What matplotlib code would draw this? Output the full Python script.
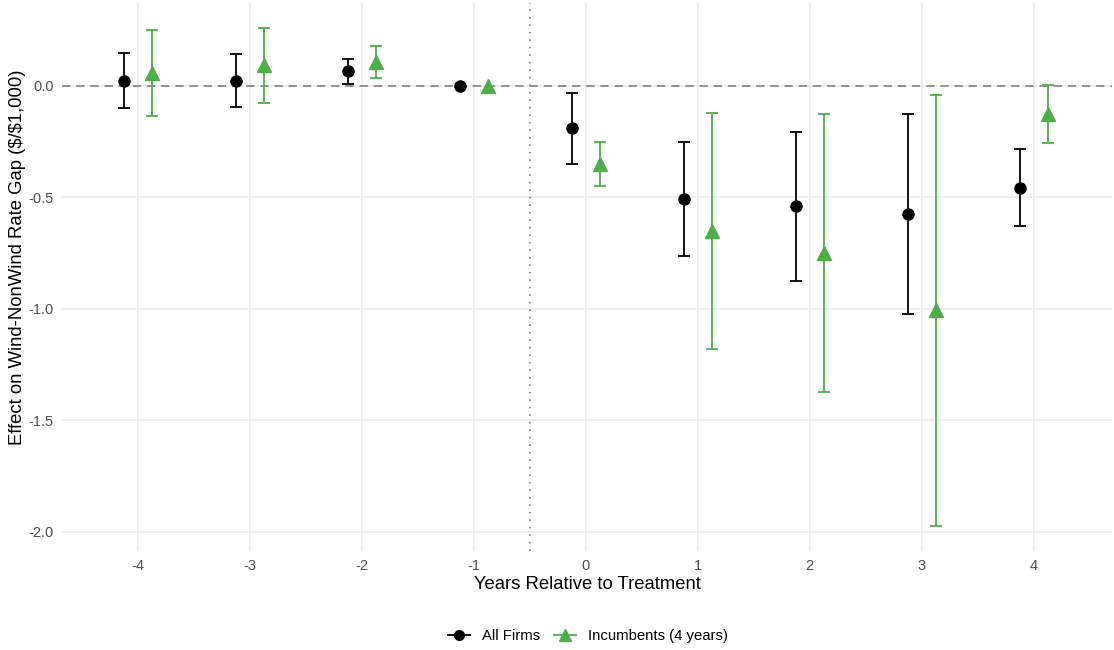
import matplotlib.pyplot as plt
import numpy as np
from matplotlib.lines import Line2D

plt.rcParams['font.family'] = ['Liberation Sans', 'DejaVu Sans']
plt.rcParams['axes.unicode_minus'] = False

# event-study estimates, years relative to treatment
years = [-4, -3, -2, -1, 0, 1, 2, 3, 4]

all_est = [0.022, 0.022, 0.065, 0.0, -0.190, -0.508, -0.540, -0.576, -0.456]
all_lo = [-0.101, -0.094, 0.008, 0.0, -0.350, -0.764, -0.875, -1.024, -0.629]
all_hi = [0.148, 0.141, 0.121, 0.0, -0.030, -0.251, -0.205, -0.127, -0.283]

inc_est = [0.059, 0.093, 0.108, 0.0, -0.350, -0.651, -0.749, -1.007, -0.126]
inc_lo = [-0.133, -0.075, 0.036, 0.0, -0.449, -1.181, -1.373, -1.975, -0.256]
inc_hi = [0.251, 0.260, 0.179, 0.0, -0.251, -0.121, -0.124, -0.039, 0.004]

green = '#4DAF4A'
dodge = 0.125

fig = plt.figure(figsize=(11.14, 6.5), dpi=100)
ax = fig.add_axes([62 / 1114, 99 / 650, 1050 / 1114, 548 / 650])

ax.axhline(0, color='#808080', lw=1.2, ls=(0, (5, 3.5)), zorder=1)
ax.axvline(-0.5, color='#808080', lw=1.2, ls=(0, (1, 3.5)), zorder=1)


def draw_series(offset, est, lo, hi, color, marker, ms, label):
    x = np.array(years) + offset
    est = np.array(est)
    lo = np.array(lo)
    hi = np.array(hi)
    # reference year has no interval
    has_ci = hi != lo
    ax.errorbar(x[has_ci], est[has_ci],
                yerr=[est[has_ci] - lo[has_ci], hi[has_ci] - est[has_ci]],
                fmt='none', ecolor=color, elinewidth=1.3, capsize=4.5,
                capthick=1.3, zorder=3)
    ax.plot(x, est, ls='none', marker=marker, ms=ms, color=color,
            zorder=4, label=label)


draw_series(-dodge, all_est, all_lo, all_hi, 'black', 'o', 8, 'All Firms')
draw_series(dodge, inc_est, inc_lo, inc_hi, green, '^', 9.5, 'Incumbents (4 years)')

ax.set_xlim(-4.68, 4.70)
ax.set_ylim(-2.087, 0.372)
ax.set_xticks(years)
ax.set_yticks([0.0, -0.5, -1.0, -1.5, -2.0])
ax.set_yticklabels(['0.0', '-0.5', '-1.0', '-1.5', '-2.0'])

ax.grid(True, color='#EBEBEB', lw=1.1, zorder=0)
ax.set_axisbelow(True)
for s in ax.spines.values():
    s.set_visible(False)
ax.tick_params(length=0, labelsize=10.5, labelcolor='#4D4D4D', pad=6)

ax.set_xlabel('Years Relative to Treatment', fontsize=13.3, labelpad=2)
ax.set_ylabel('Effect on Wind-NonWind Rate Gap (\\$/\\$1,000)', fontsize=13.3)
ax.yaxis.set_label_coords(-0.034, 0.5365)

# legend keys show the marker with a short line through it
handles = [
    Line2D([], [], color='black', marker='o', ms=7, lw=1.3),
    Line2D([], [], color=green, marker='^', ms=8, lw=1.3),
]
fig.legend(handles, ['All Firms', 'Incumbents (4 years)'], loc='center',
           bbox_to_anchor=(588 / 1114, 1 - 636 / 650), ncol=2, frameon=False,
           fontsize=10.7, handlelength=1.5, handletextpad=0.8, columnspacing=0.9)

fig.savefig('out.png', dpi=100)
